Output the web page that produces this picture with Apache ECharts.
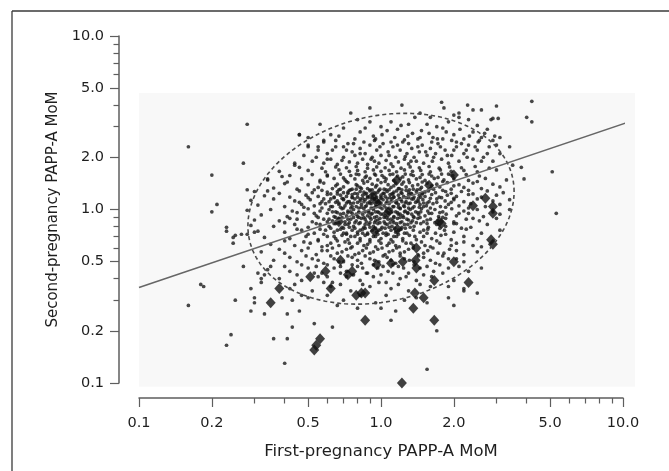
<!DOCTYPE html>
<html><head><meta charset="utf-8">
<script src="https://cdn.jsdelivr.net/npm/echarts@6/dist/echarts.min.js"></script>
<style>html,body{margin:0;padding:0;background:#fff}#c{width:669px;height:471px}</style>
</head><body><div id="c"></div>
<script>
// ---- data (MoM values) ----
const xTitle = 'First-pregnancy PAPP-A MoM';
const yTitle = 'Second-pregnancy PAPP-A MoM';
const tickLabels = ['0.1','0.2','0.5','1.0','2.0','5.0','10.0'];
const minorTickValues = [0.3,0.4,0.6,0.7,0.8,0.9,3,4,6,7,8,9];
const axisMin = 0.1, axisMax = 10;
const plotBackground = [0.1, 0.095, 11.2, 4.7]; // x0, y0, x1, y1 (MoM)
const regressionLine = [[0.1, 0.355], [10.6, 3.2]];
const ellipseCenter = [1.0, 1.01];
const ellipseRadiusDecades = 0.55;
const ellipseRho = 0.18;

const dotsTop = [[0.9,3.85],[1.22,4.0],[1.45,3.6],[1.78,4.15],[1.82,3.85],[2.1,3.6],[2.28,4.0],[2.4,3.75],[2.6,3.75],[3.0,3.95],[2.85,3.3],[2.9,3.35],[3.05,3.35],[1.1,3.2],[1.38,3.4],[2.3,3.3],[2.1,3.4],[0.75,3.6],[1.6,3.4],
[0.82,2.8],[1.01,2.7],[1.17,2.9],[1.29,2.65],[1.47,2.85],[1.64,2.6],[1.8,2.95],[2.0,2.7],[2.2,2.55],[2.4,2.8],[2.6,2.6],[2.75,2.9],[0.62,2.7],[0.65,2.5],[0.73,2.4],[0.55,2.3],[0.46,2.7],[0.5,2.35],[0.9,3.2],[0.95,2.55],[1.25,2.52],[1.55,3.1],[1.9,3.2],[0.7,2.95],[2.9,2.5],[3.1,2.6],
[0.5,2.6],[0.58,2.45],[0.67,2.65],[0.78,2.55],[0.86,2.95],[0.93,2.65],[1.06,2.85],[1.14,2.6],[1.21,3.05],[1.35,2.75],[1.42,2.55],[1.58,2.75],[1.71,2.55],[1.86,2.8],[1.96,2.5],[2.12,2.9],[2.32,2.65],[2.52,2.45],[2.68,2.75],[2.95,2.65],
[0.58,2.5],[0.7,2.3],[0.82,2.1],[0.94,2.5],[1.1,2.45],[1.3,2.4],[1.45,2.6],[1.62,2.45],[1.8,2.55],[2.05,2.45],[2.25,2.2],[2.55,2.5],[1.0,3.0],[1.3,3.1],[1.7,3.0],[2.5,3.05],[0.8,3.3],[2.0,3.5]];

const dotsUpper = [[0.44,1.8],[0.48,2.05],[0.52,1.9],[0.55,2.2],[0.58,1.85],[0.6,2.1],[0.62,1.95],[0.65,2.3],[0.66,1.82],[0.7,2.0],[0.72,2.2],[0.74,1.88],[0.77,2.4],[0.78,2.05],[0.8,1.85],[0.82,2.25],[0.84,1.95],[0.86,2.1],[0.88,1.82],[0.9,2.35],[0.92,2.0],[0.94,1.9],[0.96,2.2],[0.98,1.85],[1.0,2.05],[1.02,2.4],[1.05,1.92],[1.07,2.15],[1.1,1.83],[1.12,2.3],[1.15,2.0],[1.18,1.88],[1.2,2.2],[1.23,2.45],[1.25,1.95],[1.28,2.1],[1.3,1.83],[1.34,2.25],[1.37,2.0],[1.4,1.9],[1.44,2.15],[1.48,2.35],[1.5,1.85],[1.55,2.05],[1.6,2.25],[1.63,1.9],[1.68,2.1],[1.72,2.4],[1.78,1.95],[1.84,2.2],[1.9,1.85],[1.96,2.05],[2.05,2.3],[2.1,1.9],[2.2,2.1],[2.3,2.35],[2.4,1.95],[2.5,2.2],[2.65,2.0],[2.8,2.3],[2.9,1.9],[3.1,2.1],
[0.54,2.0],[0.63,2.2],[0.69,1.92],[0.76,2.15],[0.85,2.45],[0.91,1.95],[0.99,2.3],[1.08,2.05],[1.17,2.35],[1.26,2.02],[1.33,1.9],[1.42,2.3],[1.53,2.15],[1.65,2.0],[1.76,2.3],[1.88,2.05],[2.0,2.2],[2.15,2.4],[2.27,2.0],[2.45,2.3],[2.6,1.9],[2.75,2.1],[3.0,2.35],
[0.36,1.33],[0.45,1.31],[0.55,1.34],[0.63,1.32],[0.7,1.35],[0.76,1.31],[0.82,1.34],[0.88,1.32],[0.95,1.35],[1.03,1.31],[1.1,1.34],[1.18,1.32],[1.27,1.35],[1.36,1.31],[1.47,1.34],[1.6,1.32],[1.75,1.35],[1.95,1.31],[2.2,1.34],[2.6,1.32],[3.1,1.35],
[0.4,1.41],[0.5,1.39],[0.58,1.42],[0.66,1.4],[0.73,1.43],[0.79,1.39],[0.85,1.42],[0.92,1.4],[1.0,1.43],[1.07,1.39],[1.15,1.42],[1.22,1.4],[1.31,1.43],[1.42,1.39],[1.55,1.42],[1.7,1.4],[1.88,1.43],[2.1,1.39],[2.4,1.42],[2.9,1.4],
[0.34,1.48],[0.47,1.5],[0.56,1.47],[0.64,1.51],[0.71,1.48],[0.78,1.5],[0.84,1.47],[0.9,1.51],[0.97,1.48],[1.05,1.5],[1.13,1.47],[1.2,1.51],[1.3,1.48],[1.4,1.5],[1.52,1.47],[1.66,1.51],[1.82,1.48],[2.0,1.5],[2.3,1.47],[2.7,1.51],[3.3,1.48],
[0.42,1.57],[0.52,1.59],[0.6,1.56],[0.68,1.6],[0.75,1.57],[0.81,1.59],[0.87,1.56],[0.94,1.6],[1.01,1.57],[1.09,1.59],[1.17,1.56],[1.26,1.6],[1.36,1.57],[1.48,1.59],[1.62,1.56],[1.78,1.6],[1.98,1.57],[2.25,1.59],[2.55,1.56],
[0.38,1.66],[0.5,1.68],[0.59,1.65],[0.67,1.69],[0.74,1.66],[0.8,1.68],[0.86,1.65],[0.93,1.69],[1.0,1.66],[1.08,1.68],[1.16,1.65],[1.25,1.69],[1.35,1.66],[1.46,1.68],[1.6,1.65],[1.76,1.69],[1.95,1.66],[2.2,1.68],[2.5,1.65],[3.0,1.69],
[0.46,1.75],[0.57,1.73],[0.65,1.76],[0.72,1.74],[0.79,1.77],[0.88,1.73],[0.96,1.76],[1.04,1.74],[1.12,1.77],[1.21,1.73],[1.32,1.76],[1.44,1.74],[1.58,1.77],[1.74,1.73],[1.92,1.76],[2.15,1.74],[2.45,1.77],[2.8,1.73]];

const dotsMiddle = [[0.3,1.27],[0.38,1.24],[0.46,1.28],[0.52,1.25],[0.57,1.29],[0.62,1.23],[0.66,1.27],[0.7,1.25],[0.74,1.29],[0.78,1.24],[0.82,1.27],[0.86,1.23],[0.9,1.28],[0.94,1.25],[0.98,1.29],[1.02,1.24],[1.06,1.27],[1.11,1.23],[1.16,1.28],[1.21,1.25],[1.27,1.29],[1.33,1.24],[1.4,1.27],[1.48,1.23],[1.57,1.28],[1.68,1.25],[1.8,1.29],[1.95,1.24],[2.15,1.27],[2.4,1.23],[2.75,1.28],[3.2,1.25],
[0.33,1.2],[0.42,1.18],[0.49,1.21],[0.55,1.19],[0.6,1.22],[0.64,1.18],[0.68,1.21],[0.72,1.19],[0.76,1.22],[0.8,1.18],[0.84,1.21],[0.88,1.19],[0.92,1.22],[0.96,1.18],[1.0,1.21],[1.04,1.19],[1.09,1.22],[1.13,1.18],[1.18,1.21],[1.24,1.19],[1.3,1.22],[1.37,1.18],[1.44,1.21],[1.52,1.19],[1.62,1.22],[1.74,1.18],[1.88,1.21],[2.05,1.19],[2.3,1.22],[2.6,1.18],[3.0,1.21],
[0.29,1.13],[0.36,1.15],[0.44,1.12],[0.51,1.14],[0.57,1.11],[0.62,1.15],[0.66,1.12],[0.7,1.14],[0.74,1.11],[0.78,1.15],[0.82,1.12],[0.86,1.14],[0.9,1.11],[0.94,1.15],[0.98,1.12],[1.02,1.14],[1.06,1.11],[1.11,1.15],[1.16,1.12],[1.21,1.14],[1.27,1.11],[1.34,1.15],[1.41,1.12],[1.49,1.14],[1.58,1.11],[1.7,1.15],[1.84,1.12],[2.0,1.14],[2.2,1.11],[2.5,1.15],[2.9,1.12],[3.4,1.14],
[0.31,1.06],[0.4,1.04],[0.47,1.07],[0.53,1.05],[0.59,1.08],[0.63,1.04],[0.67,1.07],[0.71,1.05],[0.75,1.08],[0.79,1.04],[0.83,1.07],[0.87,1.05],[0.91,1.08],[0.95,1.04],[0.99,1.07],[1.03,1.05],[1.08,1.08],[1.13,1.04],[1.18,1.07],[1.24,1.05],[1.3,1.08],[1.37,1.04],[1.45,1.07],[1.54,1.05],[1.64,1.08],[1.76,1.04],[1.9,1.07],[2.1,1.05],[2.35,1.08],[2.7,1.04],[3.1,1.07],
[0.28,0.99],[0.35,1.0],[0.43,0.98],[0.5,1.01],[0.56,0.98],[0.61,1.0],[0.65,0.97],[0.69,1.01],[0.73,0.98],[0.77,1.0],[0.81,0.97],[0.85,1.01],[0.89,0.98],[0.93,1.0],[0.97,0.97],[1.01,1.01],[1.05,0.98],[1.1,1.0],[1.15,0.97],[1.2,1.01],[1.26,0.98],[1.32,1.0],[1.39,0.97],[1.47,1.01],[1.56,0.98],[1.67,1.0],[1.8,0.97],[1.96,1.01],[2.2,0.98],[2.5,1.0],[2.9,0.97],[3.4,1.0],
[0.32,0.93],[0.41,0.91],[0.48,0.94],[0.54,0.92],[0.6,0.95],[0.64,0.91],[0.68,0.94],[0.72,0.92],[0.76,0.95],[0.8,0.91],[0.84,0.94],[0.88,0.92],[0.92,0.95],[0.96,0.91],[1.0,0.94],[1.04,0.92],[1.08,0.95],[1.13,0.91],[1.18,0.94],[1.23,0.92],[1.29,0.95],[1.36,0.91],[1.43,0.94],[1.52,0.92],[1.62,0.95],[1.73,0.91],[1.86,0.94],[2.05,0.92],[2.3,0.95],[2.65,0.91],[3.1,0.94],
[0.3,0.87],[0.38,0.86],[0.45,0.88],[0.52,0.85],[0.58,0.88],[0.63,0.86],[0.67,0.89],[0.71,0.85],[0.75,0.88],[0.79,0.86],[0.83,0.89],[0.87,0.85],[0.91,0.88],[0.95,0.86],[0.99,0.89],[1.03,0.85],[1.07,0.88],[1.12,0.86],[1.17,0.89],[1.22,0.85],[1.28,0.88],[1.35,0.86],[1.42,0.89],[1.5,0.85],[1.6,0.88],[1.72,0.86],[1.85,0.89],[2.0,0.85],[2.25,0.88],[2.55,0.86],[3.0,0.89]];

const dotsCore = [[0.68,1.31],[0.75,1.3],[0.83,1.32],[0.9,1.3],[0.99,1.31],[1.08,1.3],[1.19,1.32],[1.31,1.3],[1.45,1.31],
[0.66,1.23],[0.73,1.24],[0.8,1.23],[0.87,1.24],[0.95,1.23],[1.03,1.24],[1.12,1.23],[1.22,1.24],[1.34,1.23],[1.48,1.24],
[0.69,1.16],[0.76,1.17],[0.84,1.16],[0.92,1.17],[1.0,1.16],[1.09,1.17],[1.19,1.16],[1.3,1.17],[1.43,1.16],
[0.65,1.1],[0.72,1.09],[0.8,1.1],[0.88,1.09],[0.96,1.1],[1.05,1.09],[1.15,1.1],[1.26,1.09],[1.39,1.1],[1.55,1.09],
[0.68,1.03],[0.75,1.02],[0.83,1.03],[0.91,1.02],[0.99,1.03],[1.08,1.02],[1.18,1.03],[1.3,1.02],[1.44,1.03],
[0.66,0.96],[0.73,0.96],[0.81,0.96],[0.89,0.96],[0.98,0.96],[1.07,0.96],[1.17,0.96],[1.29,0.96],[1.42,0.96],
[0.69,0.9],[0.77,0.9],[0.85,0.9],[0.94,0.9],[1.03,0.9],[1.13,0.9],[1.24,0.9],[1.37,0.9],
[0.67,0.84],[0.74,0.84],[0.82,0.84],[0.9,0.84],[0.99,0.84],[1.09,0.84],[1.2,0.84],[1.33,0.84],
[0.7,0.78],[0.78,0.78],[0.86,0.78],[0.95,0.78],[1.04,0.78],[1.14,0.78],[1.26,0.78],
[0.72,0.72],[0.8,0.72],[0.88,0.72],[0.97,0.72],[1.07,0.72],[1.18,0.72],
[0.6,1.58],[0.7,1.52],[0.79,1.6],[0.86,1.53],[0.95,1.58],[1.03,1.53],[1.12,1.6],[1.23,1.54],[1.33,1.59],[1.45,1.53],[1.58,1.6],[1.72,1.53],[1.9,1.6],
[0.56,1.44],[0.65,1.37],[0.72,1.45],[0.8,1.37],[0.88,1.45],[0.96,1.38],[1.04,1.45],[1.13,1.37],[1.24,1.44],[1.35,1.37],[1.48,1.44],[1.62,1.37],[1.8,1.45],[2.0,1.37],[2.5,1.45],
[0.53,1.3],[0.6,1.26],[0.67,1.3],[0.73,1.26],[0.79,1.31],[0.85,1.26],[0.92,1.3],[0.97,1.26],[1.05,1.3],[1.13,1.26],[1.22,1.3],[1.3,1.26],[1.41,1.3],[1.52,1.26],[1.65,1.31],[1.85,1.27],[2.3,1.29],
[0.5,1.17],[0.58,1.15],[0.64,1.17],[0.7,1.15],[0.76,1.18],[0.82,1.15],[0.88,1.17],[0.94,1.15],[1.0,1.18],[1.06,1.16],[1.13,1.18],[1.2,1.15],[1.27,1.17],[1.36,1.15],[1.46,1.18],[1.6,1.16],[1.78,1.17],[2.0,1.16],
[0.46,1.1],[0.56,1.08],[0.61,1.11],[0.67,1.09],[0.73,1.11],[0.77,1.09],[0.85,1.11],[0.9,1.09],[0.97,1.11],[1.0,1.09],[1.1,1.11],[1.16,1.09],[1.22,1.11],[1.32,1.09],[1.43,1.11],[1.5,1.09],[1.7,1.1],[1.95,1.1],
[0.48,1.03],[0.57,1.02],[0.62,1.04],[0.7,1.02],[0.76,1.04],[0.81,1.02],[0.86,1.04],[0.93,1.02],[0.96,1.04],[1.05,1.02],[1.12,1.04],[1.2,1.02],[1.25,1.04],[1.35,1.02],[1.5,1.04],[1.6,1.02],[1.85,1.03],[2.3,1.02],
[0.45,0.96],[0.53,0.95],[0.63,0.97],[0.7,0.95],[0.75,0.97],[0.79,0.94],[0.86,0.97],[0.91,0.94],[0.95,0.97],[1.02,0.94],[1.11,0.97],[1.2,0.94],[1.25,0.97],[1.34,0.94],[1.46,0.97],[1.58,0.95],[1.75,0.96],[2.1,0.95],
[0.42,0.89],[0.55,0.9],[0.61,0.88],[0.65,0.9],[0.73,0.88],[0.81,0.9],[0.86,0.88],[0.9,0.9],[0.97,0.87],[1.05,0.9],[1.1,0.88],[1.2,0.9],[1.3,0.87],[1.45,0.9],[1.55,0.87],[1.8,0.9],[2.4,0.89],
[0.4,0.84],[0.54,0.83],[0.6,0.85],[0.64,0.83],[0.71,0.82],[0.78,0.84],[0.86,0.82],[0.94,0.84],[1.04,0.83],[1.13,0.84],[1.25,0.82],[1.4,0.84],[1.55,0.83],[1.67,0.84],[2.0,0.83],
[0.45,0.77],[0.56,0.77],[0.62,0.78],[0.66,0.76],[0.74,0.79],[0.82,0.76],[0.9,0.79],[0.98,0.76],[1.08,0.79],[1.18,0.76],[1.32,0.79],[1.5,0.76],[1.75,0.78],[2.15,0.78],
[0.5,0.72],[0.58,0.72],[0.64,0.7],[0.7,0.73],[0.75,0.7],[0.84,0.73],[0.93,0.7],[1.02,0.73],[1.13,0.7],[1.25,0.73],[1.38,0.7],[1.55,0.73],[1.85,0.72]];

const dotsLower = [[0.29,0.81],[0.36,0.8],[0.44,0.82],[0.5,0.79],[0.56,0.82],[0.61,0.8],[0.65,0.83],[0.69,0.79],[0.73,0.82],[0.77,0.8],[0.81,0.83],[0.85,0.79],[0.89,0.82],[0.93,0.8],[0.97,0.83],[1.01,0.79],[1.06,0.82],[1.11,0.8],[1.16,0.83],[1.22,0.79],[1.29,0.82],[1.37,0.8],[1.46,0.83],[1.57,0.79],[1.7,0.82],[1.85,0.8],[2.05,0.83],[2.35,0.79],[2.75,0.82],
[0.31,0.75],[0.4,0.74],[0.47,0.76],[0.53,0.73],[0.59,0.76],[0.64,0.74],[0.68,0.77],[0.72,0.73],[0.76,0.76],[0.8,0.74],[0.84,0.77],[0.88,0.73],[0.92,0.76],[0.96,0.74],[1.0,0.77],[1.05,0.73],[1.1,0.76],[1.15,0.74],[1.21,0.77],[1.28,0.73],[1.36,0.76],[1.45,0.74],[1.56,0.77],[1.68,0.73],[1.83,0.76],[2.0,0.74],[2.25,0.77],[2.6,0.73],[3.1,0.76],
[0.33,0.69],[0.42,0.68],[0.49,0.7],[0.55,0.67],[0.6,0.7],[0.65,0.68],[0.69,0.71],[0.73,0.67],[0.78,0.7],[0.82,0.68],[0.86,0.71],[0.9,0.67],[0.95,0.7],[1.0,0.68],[1.05,0.71],[1.1,0.67],[1.16,0.7],[1.23,0.68],[1.31,0.71],[1.4,0.67],[1.5,0.7],[1.62,0.68],[1.77,0.71],[1.95,0.67],[2.2,0.7],[2.5,0.68],
[0.35,0.63],[0.44,0.62],[0.51,0.64],[0.57,0.61],[0.62,0.64],[0.67,0.62],[0.71,0.65],[0.76,0.61],[0.8,0.64],[0.85,0.62],[0.9,0.65],[0.95,0.61],[1.0,0.64],[1.06,0.62],[1.12,0.65],[1.19,0.61],[1.27,0.64],[1.36,0.62],[1.47,0.65],[1.6,0.61],[1.75,0.64],[1.95,0.62],[2.2,0.65],[2.6,0.61],
[0.32,0.57],[0.4,0.56],[0.47,0.58],[0.54,0.55],[0.6,0.58],[0.66,0.56],[0.72,0.59],[0.78,0.55],[0.84,0.58],[0.9,0.56],[0.97,0.59],[1.04,0.55],[1.12,0.58],[1.2,0.56],[1.3,0.59],[1.42,0.55],[1.56,0.58],[1.72,0.56],[1.92,0.59],[2.2,0.55],[2.5,0.57],
[0.36,0.51],[0.45,0.5],[0.52,0.52],[0.58,0.49],[0.64,0.52],[0.7,0.5],[0.76,0.53],[0.83,0.49],[0.9,0.52],[0.98,0.5],[1.06,0.53],[1.15,0.49],[1.25,0.52],[1.37,0.5],[1.5,0.53],[1.68,0.49],[1.9,0.52],[2.2,0.5],
[0.34,0.45],[0.42,0.44],[0.5,0.46],[0.57,0.43],[0.64,0.46],[0.72,0.44],[0.8,0.47],[0.88,0.43],[0.97,0.46],[1.07,0.44],[1.18,0.47],[1.3,0.43],[1.45,0.46],[1.65,0.44],[1.9,0.46],[2.3,0.44],
[0.38,0.4],[0.47,0.39],[0.55,0.41],[0.63,0.38],[0.72,0.41],[0.82,0.39],[0.93,0.41],[1.05,0.38],[1.2,0.4],[1.4,0.39],[1.62,0.41],[2.0,0.39],
[0.42,0.35],[0.52,0.34],[0.62,0.36],[0.75,0.34],[0.9,0.36],[1.1,0.35],[1.3,0.34],[1.6,0.36],[2.2,0.35],
[0.5,0.31],[0.7,0.3],[0.95,0.29],[1.25,0.3],[1.55,0.29],[0.8,0.27],[1.15,0.26],[1.9,0.31],[2.5,0.33],
[0.4,0.66],[0.48,0.65],[0.55,0.66],[0.6,0.62],[0.66,0.66],[0.74,0.64],[0.82,0.66],[0.88,0.63],[0.98,0.66],[1.08,0.64],[1.15,0.62],[1.23,0.66],[1.33,0.64],[1.52,0.62],[1.7,0.66],[2.05,0.64],[2.4,0.62],
[0.38,0.59],[0.5,0.6],[0.57,0.58],[0.63,0.6],[0.69,0.57],[0.75,0.6],[0.81,0.56],[0.87,0.6],[0.93,0.57],[1.01,0.6],[1.08,0.57],[1.16,0.6],[1.25,0.57],[1.36,0.6],[1.5,0.56],[1.64,0.6],[1.82,0.56],[2.05,0.58],
[0.42,0.53],[0.49,0.54],[0.55,0.51],[0.62,0.54],[0.67,0.5],[0.73,0.54],[0.8,0.51],[0.86,0.54],[0.94,0.51],[1.02,0.54],[1.1,0.51],[1.2,0.54],[1.31,0.51],[1.43,0.54],[1.6,0.51],[1.8,0.54],[2.05,0.52],
[0.4,0.47],[0.47,0.48],[0.54,0.47],[0.6,0.48],[0.68,0.47],[0.76,0.48],[0.84,0.46],[0.93,0.48],[1.02,0.47],[1.12,0.48],[1.24,0.46],[1.37,0.48],[1.55,0.47],[1.75,0.48],[2.1,0.47],
[0.45,0.42],[0.53,0.43],[0.6,0.41],[0.68,0.43],[0.77,0.42],[0.87,0.43],[1.0,0.42],[1.12,0.43],[1.27,0.41],[1.5,0.42],[1.8,0.43],
[0.44,0.37],[0.58,0.38],[0.68,0.37],[0.84,0.37],[0.98,0.38],[1.18,0.37],[1.45,0.37],[1.9,0.36],
[0.47,0.32],[0.6,0.32],[0.82,0.32],[1.05,0.32],[1.4,0.31],[0.66,0.28],[1.0,0.27]];

const dotsOutlying = [[0.16,2.3],[0.28,3.1],[0.56,3.1],[0.2,1.58],[0.27,1.85],[0.28,1.3],[0.21,1.07],[0.2,0.97],[0.23,0.75],[0.23,0.79],[0.245,0.69],[0.245,0.64],[0.25,0.71],[0.265,0.72],[0.28,0.72],[0.18,0.37],[0.185,0.36],[0.16,0.28],[0.27,0.47],[0.25,0.3],[0.24,0.19],[0.23,0.165],[0.29,0.35],[0.29,0.26],[0.3,0.31],[0.3,0.29],[0.32,0.38],[0.33,0.25],[0.36,0.18],[0.41,0.18],[0.4,0.13],[0.41,0.25],[0.43,0.21],[0.46,0.26],[0.53,0.22],[0.63,0.21],[0.39,0.31],[0.43,0.3],[0.31,0.43],[0.33,0.42],[0.32,0.4],[0.35,0.47],
[0.46,2.7],[0.5,2.3],[0.6,1.95],[0.44,1.85],[0.39,1.55],[0.34,1.5],[0.41,1.44],[0.34,1.28],[0.3,0.74],
[4.2,4.2],[4.0,3.4],[4.2,3.2],[5.1,1.65],[5.3,0.95],[3.8,1.75],[3.9,1.5],[3.5,1.8],[3.4,2.3],
[2.0,0.28],[1.1,0.23],[1.7,0.2],[1.55,0.12],[2.6,0.46],[2.2,0.34]];

const diamonds = [[0.35,0.29],[0.38,0.35],[0.51,0.41],[0.56,0.18],[0.54,0.165],[0.53,0.155],[0.59,0.44],[0.62,0.35],[0.68,0.51],[0.73,0.42],[0.76,0.44],[0.79,0.32],[0.83,0.33],[0.86,0.33],[0.86,0.23],[0.96,0.48],[1.1,0.49],[1.23,0.5],[1.39,0.51],[1.4,0.46],[1.4,0.6],[1.38,0.33],[1.5,0.31],[1.36,0.27],[1.66,0.39],[1.66,0.23],[1.22,0.1],[2.0,0.5],[2.3,0.38],[2.85,0.67],[2.9,0.63],[2.7,1.16],[2.9,1.04],[2.9,0.95],[2.4,1.05],[1.74,0.85],[1.78,0.83],[2.0,1.58],[1.58,1.38],[0.96,1.1],[1.07,0.96],[0.94,0.75],[1.17,0.77],[0.67,0.85],[0.92,1.19],[1.16,1.47]];

// ---- build ----
const L = v => Math.log10(v);
const toLog = arr => arr.map(p => [L(p[0]), L(p[1])]);
const allDots = [].concat(dotsTop, dotsUpper, dotsMiddle, dotsCore, dotsLower, dotsOutlying);
const ellipsePts = [];
for (let i = 0; i <= 160; i++) {
  const t = 2 * Math.PI * i / 160, R = ellipseRadiusDecades;
  ellipsePts.push([L(ellipseCenter[0]) + R * Math.cos(t),
                   L(ellipseCenter[1]) + R * (ellipseRho * Math.cos(t) + Math.sqrt(1 - ellipseRho * ellipseRho) * Math.sin(t))]);
}
const majorVals = tickLabels.map(s => L(parseFloat(s)));
const minorVals = minorTickValues.map(L);
const FONT = 'DejaVu Sans';
const txt = '#1e1e1e';
const axisCol = '#5e5e5e';

function mkAxis(kind, main) {
  const o = {
    type: 'value', min: L(axisMin), max: L(axisMax),
    position: kind === 'x' ? 'bottom' : 'left',
    offset: kind === 'x' ? 15 : 20,
    splitLine: { show: false },
    axisLine: { show: main, onZero: false, lineStyle: { color: axisCol, width: 1.5 } },
    axisTick: { show: true, inside: false, length: main ? 9 : 5.5, customValues: main ? majorVals : minorVals,
                lineStyle: { color: axisCol, width: 1.2 } },
    axisLabel: main ? { show: true, customValues: majorVals, fontFamily: FONT, fontSize: 14.5, color: txt,
                        margin: kind === 'x' ? 18 : 15,
                        formatter: v => Math.pow(10, v).toFixed(1) } : { show: false }
  };
  if (main) {
    o.name = kind === 'x' ? xTitle : yTitle;
    o.nameLocation = 'middle';
    o.nameGap = kind === 'x' ? 45 : 50;
    o.nameTextStyle = { fontFamily: FONT, fontSize: kind === 'x' ? 16.5 : 15, color: txt };
  }
  return o;
}

const chart = echarts.init(document.getElementById('c'), null, { renderer: 'canvas' });
chart.setOption({
  animation: false,
  backgroundColor: '#fff',
  grid: { left: 139, right: 46, top: 36, bottom: 88 },
  xAxis: [mkAxis('x', true), mkAxis('x', false)],
  yAxis: [mkAxis('y', true), mkAxis('y', false)],
  graphic: [
    { type: 'line', shape: { x1: 12, y1: 11, x2: 669, y2: 11 }, style: { stroke: '#3a3a3a', lineWidth: 1.3 }, z: 100 },
    { type: 'line', shape: { x1: 12, y1: 11, x2: 12, y2: 471 }, style: { stroke: '#3a3a3a', lineWidth: 1.3 }, z: 100 }
  ],
  series: [
    { type: 'custom', clip: false, z: 0, silent: true,
      data: [[L(plotBackground[0]), L(plotBackground[1]), L(plotBackground[2]), L(plotBackground[3])]],
      renderItem: (params, api) => {
        const a = api.coord([api.value(0), api.value(3)]);
        const b = api.coord([api.value(2), api.value(1)]);
        return { type: 'rect', shape: { x: a[0], y: a[1], width: b[0] - a[0], height: b[1] - a[1] }, style: { fill: '#f8f8f8' } };
      } },
    { type: 'scatter', z: 2, symbol: 'circle', symbolSize: 3.7, itemStyle: { color: '#1a1a1a' }, data: toLog(allDots), clip: false, large: false },
    { type: 'scatter', z: 3, symbol: 'diamond', symbolSize: [10, 11], itemStyle: { color: '#111' }, data: toLog(diamonds), clip: false },
    { type: 'line', z: 4, showSymbol: false, symbol: 'none', smooth: false, clip: false, data: ellipsePts,
      lineStyle: { color: '#4a4a4a', width: 1.6, type: [4, 3] } },
    { type: 'line', z: 5, showSymbol: false, symbol: 'none', clip: false, data: toLog(regressionLine),
      lineStyle: { color: '#666', width: 1.6 } }
  ]
});
</script></body></html>
